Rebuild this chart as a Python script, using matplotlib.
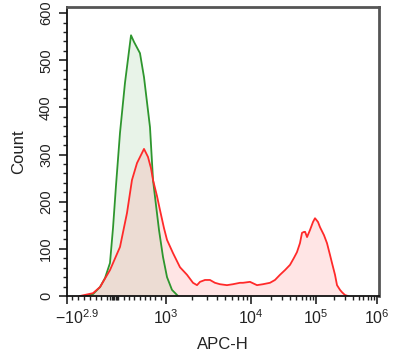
import numpy as np
import matplotlib
matplotlib.use("Agg")
import matplotlib.pyplot as plt
from matplotlib.ticker import FixedLocator
from matplotlib.transforms import ScaledTranslation

plt.rcParams['font.family'] = ['Liberation Sans', 'DejaVu Sans']
plt.rcParams['mathtext.fontset'] = 'custom'
plt.rcParams['mathtext.rm'] = 'Liberation Sans'
plt.rcParams['mathtext.it'] = 'Liberation Sans:italic'
plt.rcParams['mathtext.bf'] = 'Liberation Sans:bold'

# --- data (APC-H value, count) ---
green_x = [-483, -345, -224, -138, -52, 0, 57, 132, 226, 340, 396, 509, 585,
           698, 755, 811, 868, 943, 1028, 1176, 1384]
green_y = [0, 4, 19, 38, 70, 144, 235, 346, 452, 553, 539, 515, 464,
           358, 246, 193, 140, 83, 40, 13, 0]

red_x = [-570, -345, -224, -52, 132, 264, 358, 453, 528, 585, 660, 717, 755,
         830, 887, 962, 1028, 1209, 1461, 1767, 2078, 2316, 2512, 2874, 3290,
         3765, 4309, 5213, 6140, 7424, 8051, 9732, 12365, 15292, 19594, 23395,
         27940, 33370, 39810, 45860, 50940, 56630, 60930, 65560, 68010, 72830,
         80870, 89940, 96520, 107840, 116300, 135200, 151500, 169700, 182900,
         204900, 221000, 247400, 267000, 298800, 334900]
red_y = [0, 6, 19, 55, 104, 176, 246, 282, 299, 312, 295, 271, 246,
         212, 182, 144, 119, 91, 61, 45, 28, 23, 30, 34, 34,
         28, 25, 23, 25, 28, 28, 30, 23, 25, 28, 34,
         45, 55, 66, 81, 93, 112, 134, 136, 136, 125,
         140, 157, 165, 157, 146, 129, 112, 87, 70,
         45, 23, 13, 8, 2, 0]

x_tick_values = [-794, 1e3, 1e4, 1e5, 1e6]
x_tick_labels = [r'$\mathregular{-10^{2.9}}$', r'$\mathregular{10^{3}}$',
                 r'$\mathregular{10^{4}}$', r'$\mathregular{10^{5}}$',
                 r'$\mathregular{10^{6}}$']
y_tick_values = [0, 100, 200, 300, 400, 500, 600]


# biexponential-like axis: linear around zero, log above 10^3
U_ANCH = np.array([-2.0, -0.794, 0.0, 1.0, 2.0, 3.0, 4.0, 5.0])
P_ANCH = np.array([-70.0, 0.0, 46.0, 99.0, 184.0, 249.0, 310.0, 371.0])


def _u(x):
    x = np.asarray(x, dtype=float)
    ax_ = np.abs(x)
    big = np.sign(x) * (1 + np.log10(np.maximum(ax_, 1e3) / 1e3))
    return np.where(ax_ <= 1e3, x / 1e3, big)


def _u_inv(u):
    u = np.asarray(u, dtype=float)
    au = np.abs(u)
    big = np.sign(u) * 1e3 * 10 ** (np.maximum(au, 1) - 1)
    return np.where(au <= 1, u * 1e3, big)


def forward(x):
    return np.interp(_u(x), U_ANCH, P_ANCH)


def inverse(p):
    return _u_inv(np.interp(p, P_ANCH, U_ANCH))


fig = plt.figure(figsize=(4.0, 3.62), dpi=100)
ax = fig.add_axes([67 / 400, 1 - 296 / 362, 312 / 400, 289 / 362])
ax.set_xscale('function', functions=(forward, inverse))

green_line = '#2e962e'
red_line = '#ff2a2a'
ax.fill_between(green_x, green_y, 0, color=green_line, alpha=0.11, lw=0)
ax.fill_between(red_x, red_y, 0, color='#ff8080', alpha=0.2, lw=0)
ax.plot(green_x, green_y, color=green_line, lw=1.3)
ax.plot(red_x, red_y, color=red_line, lw=1.3)

ax.set_xlim(-794, inverse(312))
ax.set_ylim(0, 613)

# ticks
ax.xaxis.set_major_locator(FixedLocator(x_tick_values))
ax.set_xticklabels(x_tick_labels)
minors = [v for v in range(-700, 1000, 100) if v != 0]
minors += [-50, -25, 0, 25, 50, 75]
for dec in [1e3, 1e4, 1e5]:
    minors += [k * dec for k in range(2, 10)]
ax.xaxis.set_minor_locator(FixedLocator(minors))

ax.yaxis.set_major_locator(FixedLocator(y_tick_values))
ax.yaxis.set_minor_locator(FixedLocator(list(range(0, 613, 20))))
ax.set_yticklabels([str(v) for v in y_tick_values], rotation=90, va='center')

ax.tick_params(axis='both', which='major', length=6, width=1.2, direction='out',
               colors='#222222', labelsize=11.5)
ax.tick_params(axis='both', which='minor', length=3, width=1.0, direction='out',
               colors='#222222')
ax.tick_params(axis='x', which='major', pad=3)
ax.tick_params(axis='y', which='major', pad=4, labelsize=10.5)

# shift the negative label right like the original
lab0 = ax.get_xticklabels()[0]
lab0.set_transform(lab0.get_transform() + ScaledTranslation(10 / 100, 0, fig.dpi_scale_trans))

for side in ['top', 'right']:
    ax.spines[side].set_color('#555555')
    ax.spines[side].set_linewidth(2.0)
for side in ['left', 'bottom']:
    ax.spines[side].set_color('#111111')
    ax.spines[side].set_linewidth(1.3)

ax.set_xlabel('APC-H', fontsize=12, color='#222222', labelpad=7)
ax.set_ylabel('Count', fontsize=12, color='#222222', labelpad=9)

fig.savefig('out.png', dpi=100)
